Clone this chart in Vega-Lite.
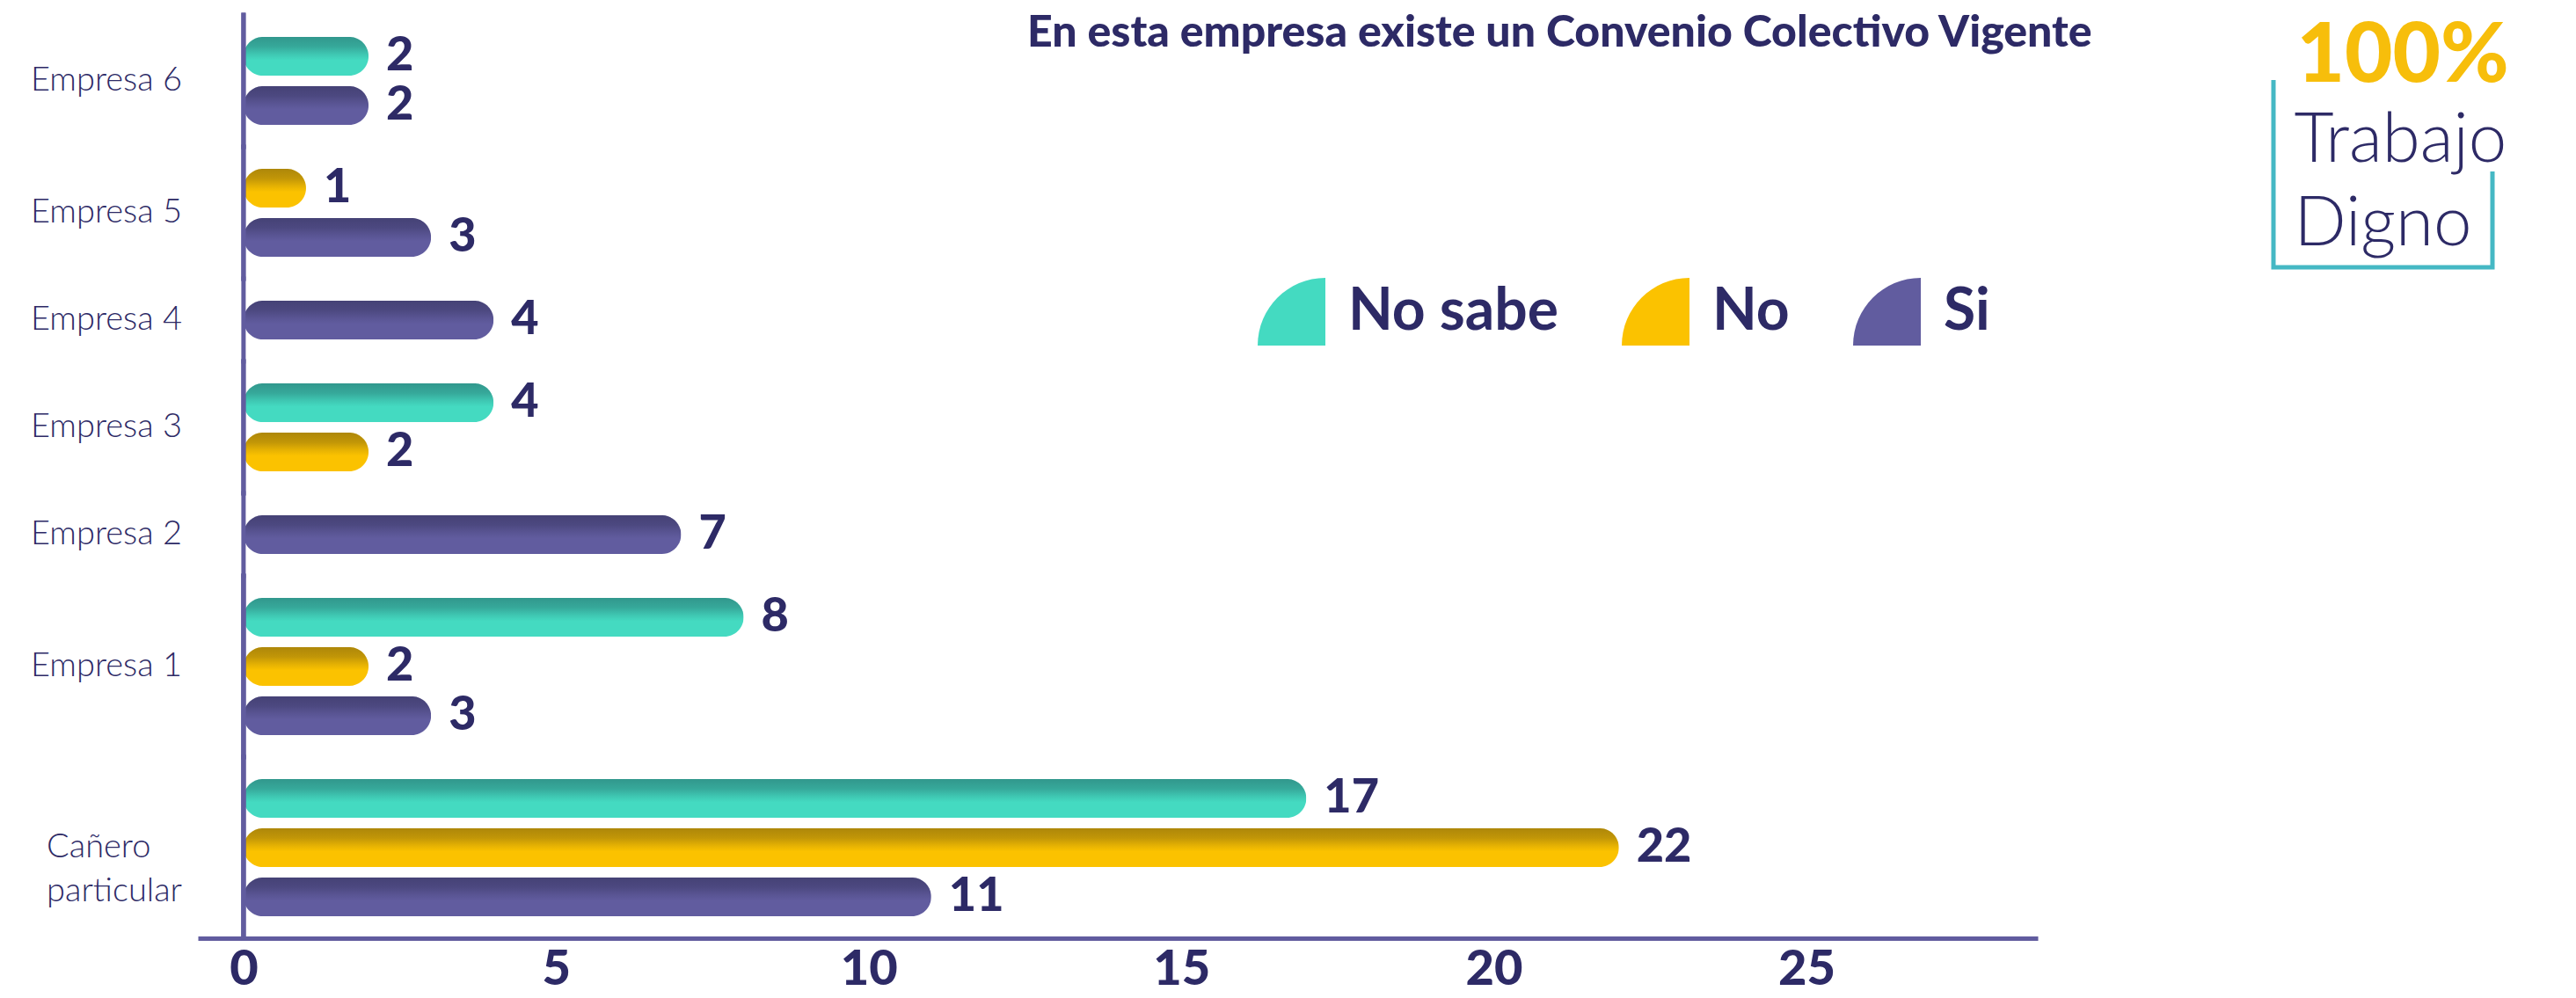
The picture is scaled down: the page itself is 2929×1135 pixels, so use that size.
{
  "$schema": "https://vega.github.io/schema/vega-lite/v6.json",
  "background": "white",
  "padding": {"left": 34, "top": 13, "right": 0, "bottom": 0},
  "config": {"view": {"stroke": null}, "font": "Lato"},
  "datasets": {
    "resp": [
      {"empresa": "Empresa 6", "respuesta": "No sabe", "valor": 2},
      {"empresa": "Empresa 6", "respuesta": "Si", "valor": 2},
      {"empresa": "Empresa 5", "respuesta": "No", "valor": 1},
      {"empresa": "Empresa 5", "respuesta": "Si", "valor": 3},
      {"empresa": "Empresa 4", "respuesta": "Si", "valor": 4},
      {"empresa": "Empresa 3", "respuesta": "No sabe", "valor": 4},
      {"empresa": "Empresa 3", "respuesta": "No", "valor": 2},
      {"empresa": "Empresa 2", "respuesta": "Si", "valor": 7},
      {"empresa": "Empresa 1", "respuesta": "No sabe", "valor": 8},
      {"empresa": "Empresa 1", "respuesta": "No", "valor": 2},
      {"empresa": "Empresa 1", "respuesta": "Si", "valor": 3},
      {"empresa": "Cañero particular", "respuesta": "No sabe", "valor": 17},
      {"empresa": "Cañero particular", "respuesta": "No", "valor": 22},
      {"empresa": "Cañero particular", "respuesta": "Si", "valor": 11}
    ],
    "logo": [{"w": "100%"}, {"w": "Trabajo"}, {"w": "Digno"}]
  },
  "hconcat": [
    {
      "data": {"name": "resp"},
      "title": {
        "text": "En esta empresa existe un Convenio Colectivo Vigente",
        "anchor": "start", "frame": "group", "orient": "top",
        "offset": 0, "dx": 943, "dy": 50, "baseline": "top",
        "font": "Lato", "fontSize": 50, "fontWeight": 900, "color": "#2D2A66"
      },
      "facet": {
        "row": {
          "field": "empresa", "type": "nominal",
          "sort": ["Empresa 6", "Empresa 5", "Empresa 4", "Empresa 3", "Empresa 2", "Empresa 1", "Cañero particular"],
          "header": {
            "title": null, "labelAngle": 0, "labelOrient": "left", "labelAlign": "left",
            "labelPadding": 18, "labelFont": "Lato", "labelFontSize": 38, "labelFontWeight": 300,
            "labelColor": "#2D2A66", "labelLineHeight": 50, "labelBaseline": "middle",
            "labelExpr": "datum.value == 'Cañero particular' ? ['Cañero', 'particular'] : datum.value"
          }
        }
      },
      "spacing": {"row": 0},
      "bounds": "flush",
      "resolve": {"scale": {"y": "independent"}},
      "spec": {
        "width": 2092,
        "height": {"step": 56},
        "encoding": {
          "y": {"field": "respuesta", "type": "nominal", "sort": ["No sabe", "No", "Si"], "axis": null,
                "scale": {"paddingInner": 0.214, "paddingOuter": 0.446}},
          "x": {"field": "valor", "type": "quantitative",
                "scale": {"domain": [-0.73, 28.7], "nice": false, "zero": false},
                "axis": {"values": [0, 5, 10, 15, 20, 25], "title": null, "grid": false, "ticks": false,
                         "domainColor": "#615C9F", "domainWidth": 5, "labelFont": "Lato", "labelFontSize": 56,
                         "labelFontWeight": 900, "labelColor": "#2D2A66", "labelPadding": 8}}
        },
        "layer": [
          {
            "mark": {"type": "bar", "cornerRadius": 22},
            "encoding": {
              "color": {"field": "respuesta", "type": "nominal",
                        "scale": {"domain": ["No sabe", "No", "Si"], "range": ["#44DAC1", "#FBC200", "#615C9F"]},
                        "legend": {
                          "title": null, "orient": "none", "direction": "horizontal", "legendX": 1205, "legendY": 299,
                          "symbolType": "M1,1 L-1,1 A2,2 0 0,1 1,-1 Z", "symbolSize": 5929, "symbolStrokeWidth": 0,
                          "symbolOpacity": 1, "labelFont": "Lato", "labelFontSize": 66, "labelFontWeight": "bold",
                          "labelColor": "#2D2A66", "labelOffset": 26, "columnPadding": 72, "padding": 0,
                          "labelLimit": 600
                        }}
            }
          },
          {
            "mark": {"type": "bar", "cornerRadius": 22,
                     "fill": {"gradient": "linear", "x1": 0, "y1": 0, "x2": 0, "y2": 1,
                              "stops": [
                                {"offset": 0, "color": "rgba(10,10,30,0.32)"},
                                {"offset": 0.25, "color": "rgba(10,10,30,0.24)"},
                                {"offset": 0.45, "color": "rgba(10,10,30,0.09)"},
                                {"offset": 0.6, "color": "rgba(10,10,30,0)"},
                                {"offset": 1, "color": "rgba(10,10,30,0)"}
                              ]}}
          },
          {
            "mark": {"type": "text", "align": "left", "baseline": "middle", "dx": 20, "font": "Lato",
                     "fontSize": 54, "fontWeight": 900, "color": "#2D2A66"},
            "encoding": {"text": {"field": "valor", "type": "quantitative"}}
          },
          {
            "mark": {"type": "rule", "color": "#615C9F", "strokeWidth": 5, "strokeCap": "square"},
            "encoding": {"x": {"datum": 0}, "y": null}
          }
        ]
      }
    },
    {
      "data": {"name": "logo"},
      "width": 249,
      "height": 287,
      "view": {"stroke": "#45B8C4", "strokeWidth": 5, "strokeDash": [0, 427, 571, 2000]},
      "encoding": {
        "y": {"field": "w", "type": "nominal", "axis": null, "sort": ["100%", "Trabajo", "Digno"],
              "scale": {"paddingInner": 0, "paddingOuter": 0.08}},
        "text": {"field": "w", "type": "nominal"}
      },
      "layer": [
        {
          "transform": [{"filter": "datum.w == '100%'"}],
          "mark": {"type": "text", "align": "left", "baseline": "middle", "dx": -98, "font": "Lato",
                   "fontSize": 94, "fontWeight": 900, "color": "#F7BE0B"}
        },
        {
          "transform": [{"filter": "datum.w != '100%'"}],
          "mark": {"type": "text", "align": "left", "baseline": "middle", "dx": -101, "font": "Lato",
                   "fontSize": 78, "fontWeight": 300, "color": "#2D2A66"}
        }
      ]
    }
  ],
  "spacing": 201
}
